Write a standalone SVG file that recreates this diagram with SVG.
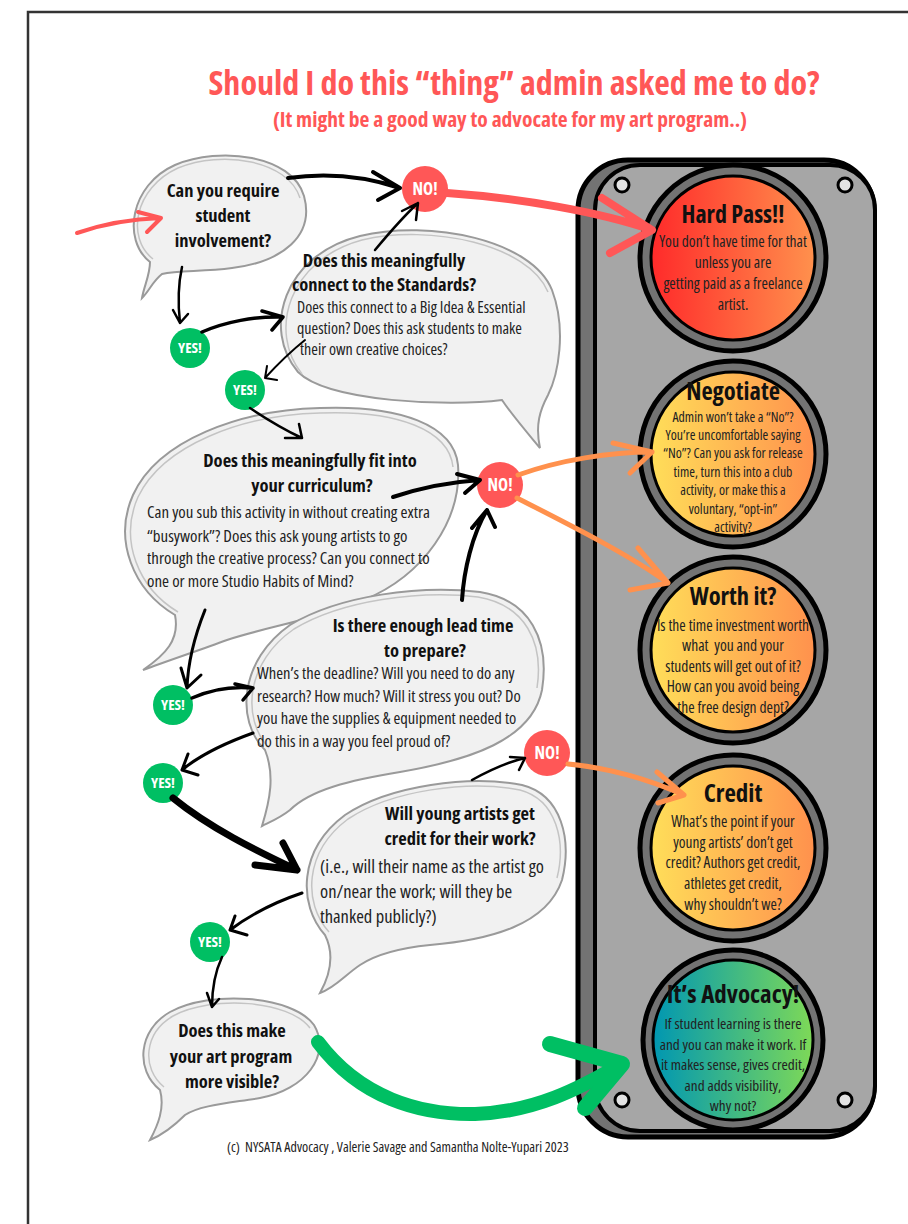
<svg xmlns="http://www.w3.org/2000/svg" width="908" height="1224" viewBox="0 0 908 1224">
<defs>
<style>
text{font-family:"Open Sans","Liberation Sans Narrow","Liberation Sans",sans-serif;font-stretch:75%;}
.title{font-weight:700;fill:#ff5757;text-anchor:middle}
.q{font-weight:700;font-size:18.5px;fill:#111;text-anchor:middle}
.d{fill:#222}
.bub{fill:#f1f1f1;stroke:#9a9a9a;stroke-width:2}
.bub2{fill:none;stroke:#c4c4c4;stroke-width:1.5}
.no{fill:#ff5757}
.yes{fill:#00bf63}
.badge{font-weight:700;fill:#fff;text-anchor:middle}
.k{fill:none;stroke:#000;stroke-linecap:round;stroke-linejoin:round}
.ring{fill:#737373;stroke:#000;stroke-width:5}
.lt{font-weight:700;fill:#111;text-anchor:middle}
.lb{fill:#222;text-anchor:middle}
.screw{fill:#e3e3e3;stroke:#000;stroke-width:3}
</style>
<linearGradient id="gRed" x1="0" x2="1" y1="0" y2="0"><stop offset="0" stop-color="#ff2a2a"/><stop offset="1" stop-color="#ff914d"/></linearGradient>
<linearGradient id="gOr" x1="0" x2="1" y1="0" y2="0"><stop offset="0" stop-color="#ffde59"/><stop offset="1" stop-color="#ff914d"/></linearGradient>
<linearGradient id="gGr" x1="0" x2="1" y1="0" y2="0"><stop offset="0" stop-color="#0097b2"/><stop offset="1" stop-color="#7ed957"/></linearGradient>
</defs>
<rect width="908" height="1224" fill="#fff"/>
<path d="M28,1224 V12 H908" fill="none" stroke="#333" stroke-width="2.5"/>

<g id="title">
<text class="title" x="514" y="95" font-size="34">Should I do this “thing” admin asked me to do?</text>
<text class="title" x="510" y="127" font-size="21.5">(It might be a good way to advocate for my art program..)</text>
</g>

<g id="traffic-light">
<rect x="578" y="160" width="296" height="977" rx="50" fill="#737373" stroke="#000" stroke-width="5"/>
<rect x="595" y="165" width="280" height="966" rx="45" fill="#a6a6a6" stroke="#000" stroke-width="4"/>
<circle class="screw" cx="622" cy="185" r="7"/>
<circle class="screw" cx="845" cy="185" r="7"/>
<circle class="screw" cx="622" cy="1100" r="7"/>
<circle class="screw" cx="845" cy="1100" r="7"/>
</g>

<g id="hard-pass" font-size="15.5">
<circle class="ring" cx="733" cy="258" r="93"/>
<circle cx="733" cy="258" r="82" fill="url(#gRed)" stroke="#000" stroke-width="3"/>
<text class="lt" x="733" y="223" font-size="24">Hard Pass!!</text>
<text class="lb" x="733" y="247">You don’t have time for that</text>
<text class="lb" x="733" y="268">unless you are</text>
<text class="lb" x="733" y="289">getting paid as a freelance</text>
<text class="lb" x="733" y="310">artist.</text>
</g>

<g id="negotiate" font-size="13.8">
<circle class="ring" cx="733" cy="454" r="93"/>
<circle cx="733" cy="454" r="82" fill="url(#gOr)" stroke="#000" stroke-width="3"/>
<text class="lt" x="733" y="400" font-size="24.5">Negotiate</text>
<text class="lb" x="733" y="422">Admin won’t take a “No”?</text>
<text class="lb" x="733" y="440">You’re uncomfortable saying</text>
<text class="lb" x="733" y="458">“No”? Can you ask for release</text>
<text class="lb" x="733" y="477">time, turn this into a club</text>
<text class="lb" x="733" y="495">activity, or make this a</text>
<text class="lb" x="733" y="514">voluntary, “opt-in”</text>
<text class="lb" x="733" y="532">activity?</text>
</g>

<g id="worth-it" font-size="15.5">
<circle class="ring" cx="733" cy="650" r="93"/>
<circle cx="733" cy="650" r="82" fill="url(#gOr)" stroke="#000" stroke-width="3"/>
<text class="lt" x="733" y="605" font-size="24.5">Worth it?</text>
<text class="lb" x="733" y="631">Is the time investment worth</text>
<text class="lb" x="733" y="651" xml:space="preserve">what  you and your</text>
<text class="lb" x="733" y="672">students will get out of it?</text>
<text class="lb" x="733" y="692">How can you avoid being</text>
<text class="lb" x="733" y="713">the free design dept?</text>
</g>

<g id="credit" font-size="15.4">
<circle class="ring" cx="733" cy="848" r="93"/>
<circle cx="733" cy="848" r="82" fill="url(#gOr)" stroke="#000" stroke-width="3"/>
<text class="lt" x="733" y="802" font-size="25">Credit</text>
<text class="lb" x="733" y="827">What’s the point if your</text>
<text class="lb" x="733" y="848">young artists’ don’t get</text>
<text class="lb" x="733" y="868">credit? Authors get credit,</text>
<text class="lb" x="733" y="889">athletes get credit,</text>
<text class="lb" x="733" y="910">why shouldn’t we?</text>
</g>

<g id="advocacy" font-size="15.2">
<circle class="ring" cx="733" cy="1040" r="90"/>
<circle cx="733" cy="1040" r="80" fill="url(#gGr)" stroke="#000" stroke-width="3"/>
<text class="lt" x="733" y="1003" font-size="25">It’s Advocacy!</text>
<text class="lb" x="733" y="1029">If student learning is there</text>
<text class="lb" x="733" y="1050">and you can make it work. If</text>
<text class="lb" x="733" y="1070">it makes sense, gives credit,</text>
<text class="lb" x="733" y="1091">and adds visibility,</text>
<text class="lb" x="733" y="1111">why not?</text>
</g>

<g id="bubble-involvement">
<path class="bub" d="M150,262 C122,240 130,185 175,165 C220,146 292,155 304,196 C315,236 282,262 232,268 C202,272 178,270 162,274 C152,282 150,290 142,298 C144,286 150,275 150,262 Z"/>
<path class="bub2" d="M153,259 C126,238 134,188 178,168 C222,150 288,160 300,198"/>
<text class="q" x="223" y="197">Can you require</text>
<text class="q" x="223" y="222">student</text>
<text class="q" x="223" y="247">involvement?</text>
</g>

<g id="bubble-standards" font-size="16">
<path class="bub" d="M298,372 C262,330 283,255 360,236 C430,219 532,240 552,290 C567,330 558,375 548,395 C540,410 535,425 540,448 C525,430 512,415 502,400 C450,407 328,402 298,372 Z"/>
<path class="bub2" d="M302,374 C268,332 288,260 362,240 C430,224 528,244 548,292"/>
<text class="q" x="384" y="267">Does this meaningfully</text>
<text class="q" x="384" y="291">connect to the Standards?</text>
<text class="d" x="297" y="313">Does this connect to a Big Idea &amp; Essential</text>
<text class="d" x="297" y="334">question? Does this ask students to make</text>
<text class="d" x="300" y="355">their own creative choices?</text>
</g>

<g id="bubble-curriculum" font-size="16.9">
<path class="bub" d="M175,615 C133,590 113,540 133,495 C158,440 240,410 320,408 C400,405 454,425 458,465 C462,520 424,575 364,600 C314,620 262,628 227,640 C200,650 170,660 143,670 C165,655 180,640 175,615 Z"/>
<path class="bub2" d="M178,612 C138,588 119,540 138,497 C163,445 242,415 320,413 C398,410 449,430 453,467"/>
<text class="q" x="310" y="467">Does this meaningfully fit into</text>
<text class="q" x="312" y="492">your curriculum?</text>
<text class="d" x="147" y="518">Can you sub this activity in without creating extra</text>
<text class="d" x="147" y="542">“busywork”? Does this ask young artists to go</text>
<text class="d" x="147" y="564">through the creative process? Can you connect to</text>
<text class="d" x="147" y="587">one or more Studio Habits of Mind?</text>
</g>

<g id="bubble-leadtime" font-size="16.5">
<path class="bub" d="M265,750 C235,720 240,660 290,625 C340,595 420,585 480,592 C530,600 550,640 542,690 C532,740 470,760 400,772 C350,780 310,790 290,810 C280,818 270,822 262,826 C270,800 275,775 265,750 Z"/>
<path class="bub2" d="M269,748 C241,718 246,662 294,629 C342,600 420,590 478,597 C525,605 544,642 537,688"/>
<text class="q" x="423" y="632">Is there enough lead time</text>
<text class="q" x="425" y="657">to prepare?</text>
<text class="d" x="257" y="679">When’s the deadline? Will you need to do any</text>
<text class="d" x="257" y="702">research? How much? Will it stress you out? Do</text>
<text class="d" x="257" y="724">you have the supplies &amp; equipment needed to</text>
<text class="d" x="257" y="747">do this in a way you feel proud of?</text>
</g>

<g id="bubble-credit" font-size="18.5">
<path class="bub" d="M325,935 C298,905 298,850 345,815 C390,785 470,775 522,785 C562,795 572,840 562,880 C547,925 490,940 430,945 C400,948 375,955 360,965 C345,975 335,988 320,993 C330,975 335,955 325,935 Z"/>
<path class="bub2" d="M329,932 C303,903 304,852 348,819 C392,790 468,780 520,790 C557,800 566,842 557,878"/>
<text class="q" x="460" y="820">Will young artists get</text>
<text class="q" x="460" y="845">credit for their work?</text>
<text class="d" x="320" y="873">(i.e., will their name as the artist go</text>
<text class="d" x="320" y="898">on/near the work; will they be</text>
<text class="d" x="320" y="923">thanked publicly?)</text>
</g>

<g id="bubble-visible">
<path class="bub" d="M160,1090 C135,1070 138,1030 170,1012 C210,990 292,995 314,1025 C332,1055 305,1090 260,1098 C230,1103 200,1105 185,1115 C175,1125 162,1135 150,1140 C158,1125 165,1108 160,1090 Z"/>
<path class="bub2" d="M164,1087 C141,1068 144,1033 173,1016 C212,995 289,1000 310,1028"/>
<text class="q" x="232" y="1037">Does this make</text>
<text class="q" x="231" y="1063">your art program</text>
<text class="q" x="232" y="1088">more visible?</text>
</g>

<g id="badges">
<circle class="no" cx="425" cy="189" r="23"/><text class="badge" x="425" y="195" font-size="17">NO!</text>
<circle class="no" cx="500" cy="485" r="23"/><text class="badge" x="500" y="491" font-size="17">NO!</text>
<circle class="no" cx="547" cy="753" r="23"/><text class="badge" x="547" y="759" font-size="17">NO!</text>
<circle class="yes" cx="190" cy="348" r="20"/><text class="badge" x="190" y="353" font-size="15">YES!</text>
<circle class="yes" cx="245" cy="390" r="20"/><text class="badge" x="245" y="395" font-size="15">YES!</text>
<circle class="yes" cx="173" cy="705" r="20"/><text class="badge" x="173" y="710" font-size="15">YES!</text>
<circle class="yes" cx="163" cy="783" r="20"/><text class="badge" x="163" y="788" font-size="15">YES!</text>
<circle class="yes" cx="210" cy="942" r="20"/><text class="badge" x="210" y="947" font-size="15">YES!</text>
</g>

<g id="connectors">
<path class="k" stroke-width="4" d="M288,178 C330,172 370,178 400,188 M373,172 L400,188 L378,200"/>
<path class="k" stroke-width="2.5" d="M375,250 C390,232 405,215 418,203 M402,211 L418,203 L416,220"/>
<path class="k" stroke-width="2.5" d="M182,267 C178,285 178,305 180,323 M173,310 L180,323 L188,314"/>
<path class="k" stroke-width="3.5" d="M202,332 C225,322 255,316 283,317 M262,311 L283,317 L272,330"/>
<path class="k" stroke-width="2" d="M305,340 C290,352 276,366 265,378 M267,366 L265,378 L277,380"/>
<path class="k" stroke-width="2.5" d="M250,408 C268,420 285,430 302,438 M285,438 L302,438 L299,424"/>
<path class="k" stroke-width="4" d="M393,497 C420,488 450,482 480,480 M457,474 L480,480 L465,493"/>
<path class="k" stroke-width="4" d="M462,600 C464,570 472,535 487,510 M472,528 L487,510 L495,527"/>
<path class="k" stroke-width="3" d="M205,610 C195,635 188,660 187,688 M181,668 L187,688 L201,675"/>
<path class="k" stroke-width="3.5" d="M192,698 C210,690 232,686 253,688 M235,684 L253,688 L243,700"/>
<path class="k" stroke-width="3" d="M253,733 C228,742 200,755 182,770 M188,754 L182,770 L198,775"/>
<path class="k" stroke-width="7" d="M173,798 C210,828 255,850 297,870 M283,843 L297,870 L255,865"/>
<path class="k" stroke-width="2.5" d="M472,780 C490,770 508,762 525,758 M510,757 L525,758 L519,770"/>
<path class="k" stroke-width="3" d="M302,893 C275,902 250,915 230,930 M235,916 L230,930 L247,935"/>
<path class="k" stroke-width="2.5" d="M222,957 C215,972 212,990 212,1007 M207,993 L212,1007 L219,999"/>
<path fill="none" stroke="#ff5757" stroke-width="4" stroke-linecap="round" stroke-linejoin="round" d="M77,233 C100,225 130,219 161,218 M138,212 L161,218 L147,232"/>
<path fill="none" stroke="#ff5757" stroke-width="8" stroke-linecap="round" stroke-linejoin="round" d="M447,193 C520,198 600,212 652,230 M602,198 L652,230 L610,253"/>
<path fill="none" stroke="#ff914d" stroke-width="5" stroke-linecap="round" stroke-linejoin="round" d="M518,475 C560,460 610,452 652,452 M613,443 L652,452 L630,473"/>
<path fill="none" stroke="#ff914d" stroke-width="5" stroke-linecap="round" stroke-linejoin="round" d="M517,498 C570,525 630,555 668,583 M638,548 L668,583 L630,590"/>
<path fill="none" stroke="#ff914d" stroke-width="5" stroke-linecap="round" stroke-linejoin="round" d="M568,764 C610,768 650,780 684,795 M657,772 L684,795 L658,803"/>
<path fill="none" stroke="#00bf63" stroke-width="14" stroke-linecap="round" stroke-linejoin="round" d="M318,1042 C360,1098 420,1115 475,1114 C535,1112 580,1088 618,1066"/>
<path fill="none" stroke="#00bf63" stroke-width="16" stroke-linecap="round" stroke-linejoin="round" d="M550,1044 L622,1064 L585,1108"/>
</g>

<text id="footer" x="227" y="1152" font-size="14" fill="#222" xml:space="preserve">(c)  NYSATA Advocacy , Valerie Savage and Samantha Nolte-Yupari 2023</text>
</svg>
